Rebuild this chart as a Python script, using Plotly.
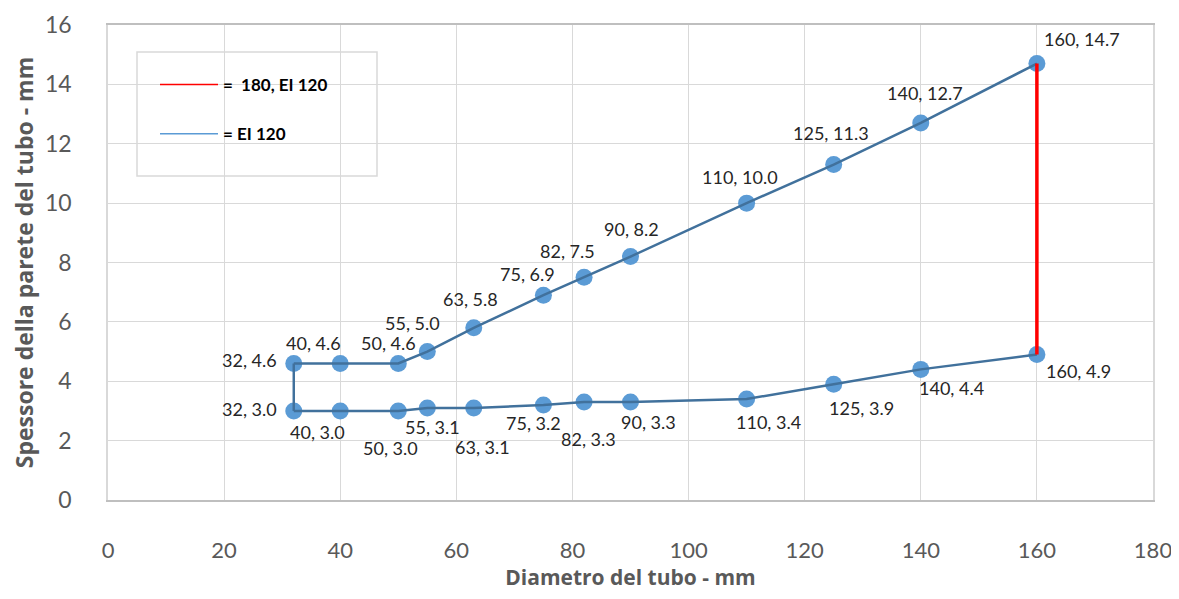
import plotly.graph_objects as go

# ---- data ----
diam = [32, 40, 50, 55, 63, 75, 82, 90, 110, 125, 140, 160]
upper_thk = [4.6, 4.6, 4.6, 5.0, 5.8, 6.9, 7.5, 8.2, 10.0, 11.3, 12.7, 14.7]
lower_thk = [3.0, 3.0, 3.0, 3.1, 3.1, 3.2, 3.3, 3.3, 3.4, 3.9, 4.4, 4.9]
red_name = "=  180, EI 120"
blue_name = "= EI 120"
x_title = "Diametro del tubo - mm"
y_title = "Spessore della parete del tubo - mm"

# ---- label offsets (px, screen: dx right, dy down) ----
upper_off = [(-44, -3), (-27, -20), (-10, -20), (-15, -29), (-3, -29), (-16, -21),
             (-17, -26), (1, -28), (-7, -26), (-3, -32), (4, -30), (45, -25)]
lower_off = [(-44, -2), (-23, 21), (-8, 37), (5, 19), (9, 39), (-10, 18),
             (4, 37), (18, 20), (22, 23), (28, 24), (31, 19), (42, 16)]

LINE = "#41719C"
MARK = "#5B9BD5"
RED = "#FF0000"
GREY = "#595959"
FONT = "Lato"
TFONT = "Open Sans"

# page body has an 8px margin: figure origin sits at (8, 8) in the window
W, H = 1163, 583
L, R, T, B = 100, 18, 17, 91
PW, PH = W - L - R, H - T - B

fig = go.Figure()

# markers first (lines are drawn over them)
for ys in (upper_thk, lower_thk):
    fig.add_trace(go.Scatter(x=diam, y=ys, mode="markers",
                             marker=dict(color=MARK, size=17),
                             showlegend=False, hoverinfo="skip"))

# blue lines
fig.add_trace(go.Scatter(x=diam, y=upper_thk, mode="lines", showlegend=False,
                         line=dict(color=LINE, width=2.5)))
fig.add_trace(go.Scatter(x=diam, y=lower_thk, mode="lines", showlegend=False,
                         line=dict(color=LINE, width=2.5)))
fig.add_trace(go.Scatter(x=[diam[0], diam[0]], y=[lower_thk[0], upper_thk[0]],
                         mode="lines", showlegend=False,
                         line=dict(color=LINE, width=2.5)))
# red line
fig.add_trace(go.Scatter(x=[diam[-1], diam[-1]], y=[upper_thk[-1], lower_thk[-1]],
                         mode="lines", showlegend=False,
                         line=dict(color=RED, width=3.5)))

# legend entries (thin keys as in the original)
fig.add_trace(go.Scatter(x=[None], y=[None], mode="lines", name=red_name,
                         line=dict(color=RED, width=1.5), legendgroup="r", legendrank=1))
fig.add_trace(go.Scatter(x=[None], y=[None], mode="lines", name=blue_name,
                         line=dict(color=MARK, width=1.5), legendgroup="b", legendrank=2))

# data labels
ann = []
for ys, offs in ((upper_thk, upper_off), (lower_thk, lower_off)):
    for xv, yv, (dx, dy) in zip(diam, ys, offs):
        ann.append(dict(x=xv, y=yv, xref="x", yref="y", text=f"{xv}, {yv:.1f}",
                        showarrow=False, xanchor="center", yanchor="middle",
                        xshift=dx, yshift=-dy,
                        font=dict(family=FONT, size=18, color="#262626")))


def px(xw):  # window x -> paper
    return (xw - 8 - L) / PW


def py(yw):  # window y -> paper
    return (H - B - (yw - 8)) / PH


fig.update_layout(
    width=W, height=H,
    margin=dict(l=L, r=R, t=T, b=B),
    paper_bgcolor="white", plot_bgcolor="white",
    font=dict(family=FONT, color=GREY),
    annotations=ann,
    showlegend=True,
    legend=dict(x=px(155), y=py(67), xanchor="left", yanchor="top",
                bgcolor="rgba(0,0,0,0)", borderwidth=0,
                font=dict(family=FONT, size=17, color="#000000", weight="bold"),
                tracegroupgap=24, traceorder="grouped", itemwidth=58),
    shapes=[dict(type="rect", xref="paper", yref="paper",
                 x0=px(137), x1=px(377), y0=py(176), y1=py(52),
                 fillcolor="white", line=dict(color="#D9D9D9", width=1.5),
                 layer="between")],
    xaxis=dict(range=[0, 180], dtick=20, showgrid=True, gridcolor="#D9D9D9",
               gridwidth=1.3, zeroline=False, showline=True, linecolor="#BFBFBF",
               linewidth=1.5, mirror=True, ticks="", automargin=False,
               tickfont=dict(family=FONT, size=22, color=GREY),
               ticklabelstandoff=30, ticklabeloverflow="allow",
               title=dict(text=x_title, standoff=23,
                          font=dict(family=TFONT, size=21, color=GREY, weight="bold"))),
    yaxis=dict(range=[0, 16], dtick=2, showgrid=True, gridcolor="#D9D9D9",
               gridwidth=1.3, zeroline=False, showline=True, linecolor="#D9D9D9",
               linewidth=1.5, mirror=True, ticks="", automargin=False,
               tickfont=dict(family=FONT, size=23, color=GREY),
               ticklabelstandoff=30, ticklabeloverflow="allow",
               title=dict(text=y_title, standoff=5,
                          font=dict(family=TFONT, size=23, color=GREY, weight="bold"))),
)

fig.write_html("out.html")
